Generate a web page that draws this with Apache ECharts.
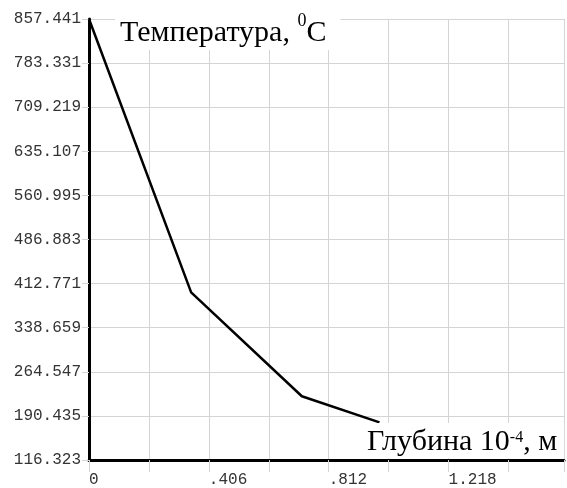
<!DOCTYPE html>
<html>
<head>
<meta charset="utf-8">
<script src="https://cdn.jsdelivr.net/npm/echarts@6/dist/echarts.min.js"></script>
<style>
    html, body { margin: 0; padding: 0; background: #fff; }
    #chart { width: 567px; height: 488px; }
</style>
</head>
<body>
<div id="chart"></div>
<script>
// глубина (10^-4 м) и температура (°C)
const depth = [0, 0.346, 0.721, 0.984];
const temperature = [857.441, 398, 223.5, 179.5];

const yTickLabels = ['116.323', '190.435', '264.547', '338.659', '412.771', '486.883',
    '560.995', '635.107', '709.219', '783.331', '857.441'];
const xTickLabels = ['0', '', '.406', '', '.812', '', '1.218', ''];

const yMin = 116.323, yStep = 74.1118;
const xStep = 0.203;

const chart = echarts.init(document.getElementById('chart'));

const gridColor = '#d4d4d4';
const monoFont = "'Liberation Mono', 'Courier New', monospace";
const serifFont = "'Liberation Serif', 'Times New Roman', serif";

const option = {
    animation: false,
    title: [
        {
            text: '{m|Температура, }{sup|0}{m|C}',
            left: 115,
            top: 12,
            padding: [0, 14, 2, 5],
            backgroundColor: '#fff',
            textStyle: {
                fontWeight: 'normal',
                rich: {
                    m: { fontFamily: serifFont, fontSize: 30, fontWeight: 'normal', color: '#000', verticalAlign: 'bottom' },
                    sup: { fontFamily: serifFont, fontSize: 18, fontWeight: 'normal', color: '#000', verticalAlign: 'top', padding: [0, 0, 18, 0] }
                }
            }
        },
        {
            text: '{m|Глубина 10}{sup|-4}{m|, м}',
            left: 362,
            top: 423,
            padding: [4, 7, 1, 5],
            backgroundColor: '#fff',
            textStyle: {
                fontWeight: 'normal',
                rich: {
                    m: { fontFamily: serifFont, fontSize: 30, fontWeight: 'normal', color: '#000', verticalAlign: 'top' },
                    sup: { fontFamily: serifFont, fontSize: 16, fontWeight: 'normal', color: '#000', verticalAlign: 'top', padding: [3, 0, 0, 0] }
                }
            }
        }
    ],
    grid: {
        left: 89,
        right: 0,
        top: 19,
        bottom: 28
    },
    xAxis: {
        type: 'value',
        min: 0,
        max: 1.609,
        interval: xStep,
        axisLine: { lineStyle: { color: '#000', width: 3 } },
        axisTick: { length: 12, lineStyle: { color: gridColor } },
        splitLine: { lineStyle: { color: gridColor, width: 1 } },
        axisLabel: {
            align: 'left',
            margin: 12,
            fontFamily: monoFont,
            fontSize: 16,
            color: '#333',
            formatter: v => {
                const i = Math.round(v / xStep);
                if (Math.abs(v - i * xStep) > 1e-6) return '';
                return xTickLabels[i] || '';
            }
        }
    },
    yAxis: {
        type: 'value',
        min: yMin,
        max: 857.441,
        interval: yStep,
        axisLine: { show: true, lineStyle: { color: '#000', width: 3 } },
        axisTick: { show: true, length: 7, lineStyle: { color: gridColor } },
        splitLine: { lineStyle: { color: gridColor, width: 1 } },
        axisLabel: {
            margin: 8,
            fontFamily: monoFont,
            fontSize: 16,
            color: '#333',
            padding: [0, 0, 7, 0],
            formatter: v => yTickLabels[Math.round((v - yMin) / yStep)] || ''
        }
    },
    series: [
        {
            type: 'line',
            data: depth.map((d, i) => [d, temperature[i]]),
            showSymbol: false,
            symbol: 'none',
            clip: false,
            lineStyle: { color: '#000', width: 2.5 }
        }
    ]
};

chart.setOption(option);
</script>
</body>
</html>
